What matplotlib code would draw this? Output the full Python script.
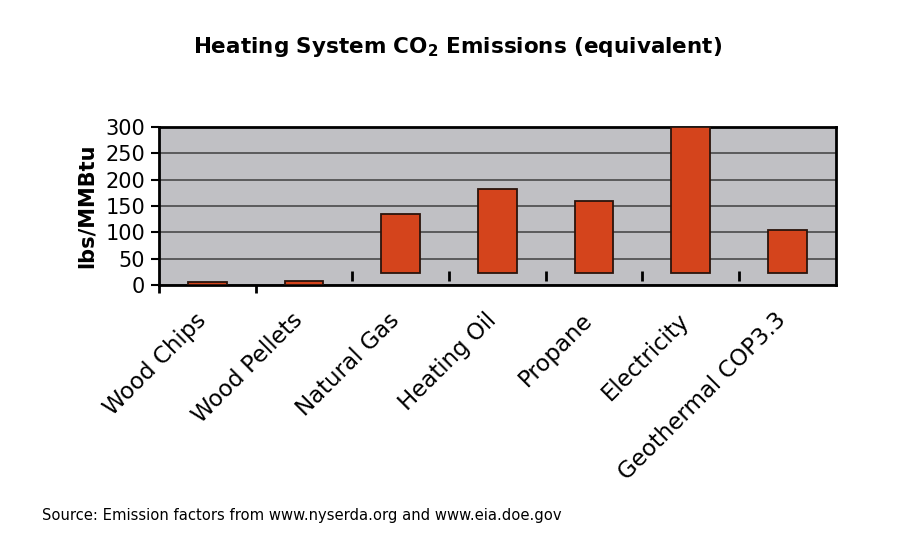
import matplotlib.pyplot as plt
import numpy as np

categories = ["Wood Chips", "Wood Pellets", "Natural Gas", "Heating Oil",
              "Propane", "Electricity", "Geothermal COP3.3"]
# top of each bar (lbs/MMBtu) as drawn
bar_tops = [5, 7, 134, 182, 160, 300, 105]
# the original picture has the last five bars floating above zero
bar_bottoms = [0, 0, 22, 22, 22, 22, 22]
yticks = [0, 50, 100, 150, 200, 250, 300]

plt.rcParams['font.family'] = ['DejaVu Sans']

fig = plt.figure(figsize=(9, 5.5), dpi=100)
ax = fig.add_axes([0.1767, 0.482, 0.752, 0.287])
ax.set_facecolor('#c0c0c4')

x = np.arange(len(categories)) + 0.5
heights = [t - b for t, b in zip(bar_tops, bar_bottoms)]
ax.bar(x, heights, bottom=bar_bottoms, width=0.4, color='#d4441c',
       edgecolor='#2a140c', linewidth=1.3, zorder=3)

ax.set_xlim(0, len(categories))
ax.set_ylim(0, 300)
ax.set_yticks(yticks)
ax.yaxis.grid(True, color='#4a4a4a', linewidth=1.2, zorder=1)
ax.set_axisbelow(True)

# category boundary marks: first two normal, the rest shifted up like the bars
ax.set_xticks([0, 1])
ax.set_xticklabels([])
ax.tick_params(axis='x', length=6, width=2, color='black')
ax.vlines(np.arange(2, len(categories)), 8, 26, color='black', linewidth=2, zorder=2)

ax.tick_params(axis='y', length=6, width=1.5, labelsize=15, pad=4)
for s in ax.spines.values():
    s.set_color('black')
    s.set_linewidth(2)

for xi, lab in zip(x, categories):
    ax.text(xi - 0.05, -0.2, lab, transform=ax.get_xaxis_transform(),
            rotation=45, ha='right', va='center', rotation_mode='anchor',
            fontsize=16.5)

ax.set_ylabel("lbs/MMBtu", fontsize=15, fontweight='bold', labelpad=6)

fig.text(0.508, 0.915, r"Heating System CO$_\mathbf{2}$ Emissions (equivalent)",
         ha='center', va='center', fontsize=15.5, fontweight='bold')
fig.text(0.047, 0.062, "Source: Emission factors from www.nyserda.org and www.eia.doe.gov",
         ha='left', va='center', fontsize=10.6)

fig.savefig("out.png", dpi=100)
